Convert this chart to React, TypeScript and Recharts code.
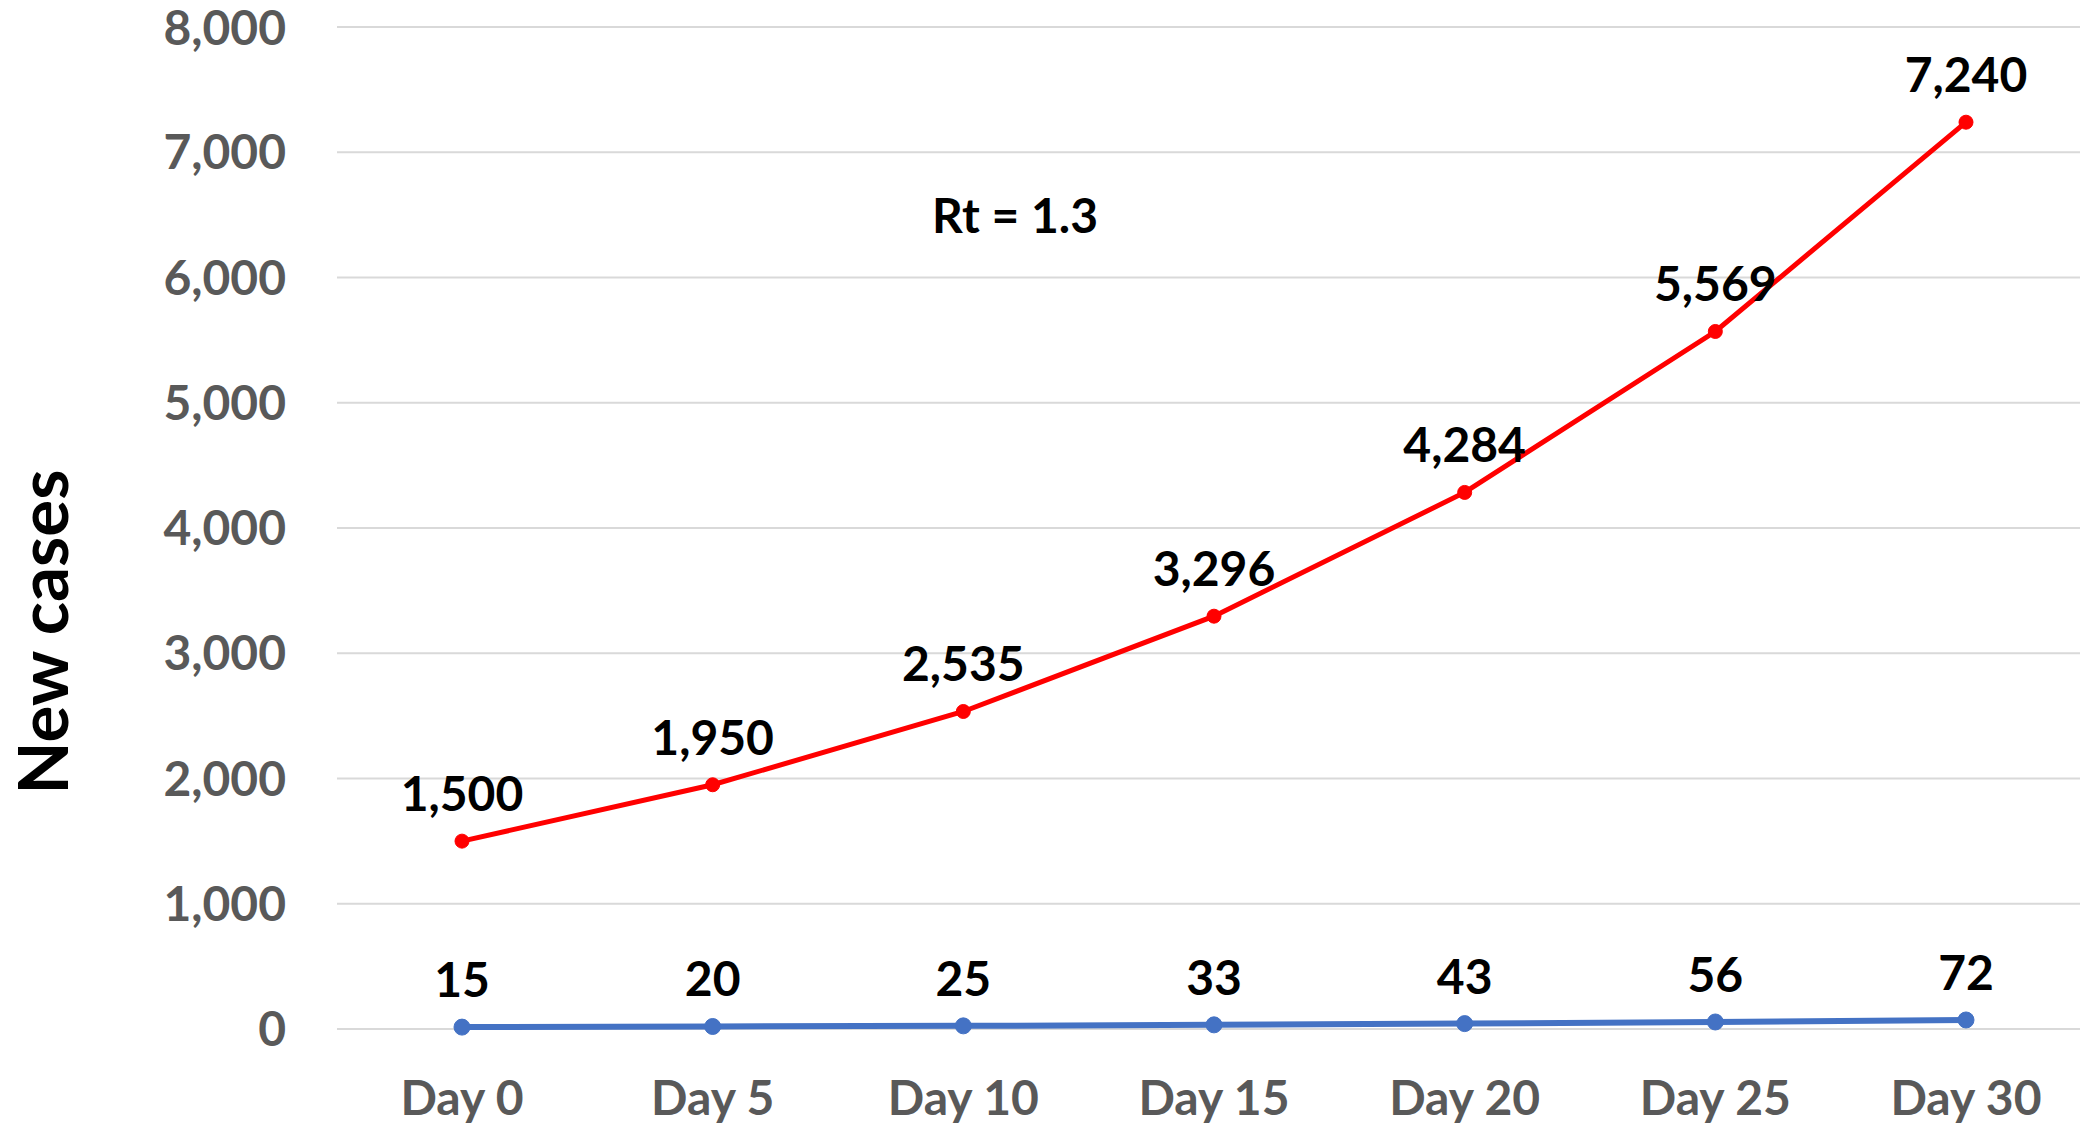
import { LineChart, Line, XAxis, YAxis, CartesianGrid, LabelList } from 'recharts';

const days = ['Day 0', 'Day 5', 'Day 10', 'Day 15', 'Day 20', 'Day 25', 'Day 30'];
const highCases = [1500, 1950, 2535, 3296, 4284, 5569, 7240];
const lowCases = [15, 20, 25, 33, 43, 56, 72];
const yTicks = [0, 1000, 2000, 3000, 4000, 5000, 6000, 7000, 8000];

const FONT = 'Lato, "Open Sans", sans-serif';

const chartData = days.map((day, i) => ({
  day,
  high: highCases[i],
  low: lowCases[i],
}));

const fmt = (v: number) => v.toLocaleString('en-US');

export default function App() {
  return (
    <div style={{ position: 'absolute', left: 0, top: 0, width: 2080, height: 1126, background: '#fff', fontFamily: FONT }}>
      <LineChart width={2080} height={1126} data={chartData} margin={{ top: 27, right: 0, bottom: 0, left: 0 }}>
        <CartesianGrid vertical={false} stroke="#d9d9d9" strokeWidth={2} />
        <XAxis
          dataKey="day"
          height={97}
          axisLine={false}
          tickLine={false}
          tickSize={0}
          tickMargin={52}
          padding={{ left: 125, right: 114 }}
          interval={0}
          tick={{ fill: '#595959', fontSize: 48, fontWeight: 700, fontFamily: FONT }}
        />
        <YAxis
          width={337}
          domain={[0, 8000]}
          ticks={yTicks}
          axisLine={false}
          tickLine={false}
          tickSize={0}
          tickMargin={51}
          tickFormatter={fmt}
          tick={{ fill: '#595959', fontSize: 48, fontWeight: 700, fontFamily: FONT }}
          label={{
            content: () => (
              <text
                x={41}
                y={632}
                transform="rotate(-90 41 632)"
                textAnchor="middle"
                dominantBaseline="central"
                fill="#000"
                fontSize={69}
                fontWeight={700}
                fontFamily={FONT}
              >
                New cases
              </text>
            ),
          }}
        />
        <Line
          dataKey="high"
          stroke="#ff0000"
          strokeWidth={5}
          dot={{ r: 7, fill: '#ff0000', stroke: '#ff0000', strokeWidth: 1 }}
          isAnimationActive={false}
        >
          <LabelList dataKey="high" position="top" offset={30} formatter={(v: number) => fmt(v)} fill="#000" fontSize={48} fontWeight={700} fontFamily={FONT} />
        </Line>
        <Line
          dataKey="low"
          stroke="#4472c4"
          strokeWidth={6}
          dot={{ r: 8, fill: '#4472c4', stroke: '#4472c4', strokeWidth: 1 }}
          isAnimationActive={false}
        >
          <LabelList dataKey="low" position="top" offset={30} formatter={(v: number) => fmt(v)} fill="#000" fontSize={48} fontWeight={700} fontFamily={FONT} />
        </Line>
      </LineChart>
      <div
        style={{
          position: 'absolute',
          left: 1015,
          top: 215,
          transform: 'translate(-50%, -50%)',
          fontSize: 48,
          fontWeight: 700,
          color: '#000',
          whiteSpace: 'nowrap',
          lineHeight: 1,
        }}
      >
        Rt = 1.3
      </div>
    </div>
  );
}
